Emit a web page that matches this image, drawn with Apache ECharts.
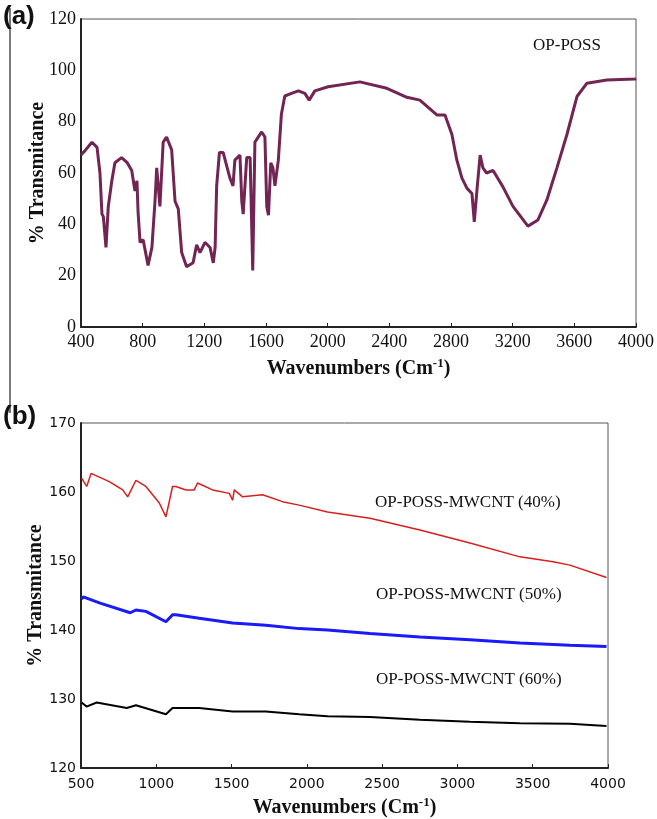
<!DOCTYPE html>
<html>
<head>
<meta charset="utf-8">
<script src="https://cdn.jsdelivr.net/npm/echarts@6/dist/echarts.min.js"></script>
<style>
  html, body { margin: 0; padding: 0; background: #fff; }
  #chart { width: 657px; height: 819px; }
</style>
</head>
<body>
<div id="chart"></div>
<script>
// (a) OP-POSS spectrum
const waveA = [400, 430, 471, 504, 523, 536, 545, 562, 577, 600, 620, 663, 700, 729, 750, 763, 770, 783, 803, 835,
  860, 880, 891, 912, 933, 955, 988, 1010, 1031, 1053, 1085, 1127, 1150, 1172, 1204, 1237, 1258, 1270, 1280, 1298,
  1322, 1366, 1386, 1398, 1431, 1443, 1452, 1475, 1497, 1514, 1528, 1572, 1593, 1605, 1616, 1631, 1645, 1658, 1680, 1700,
  1722, 1765, 1810, 1852, 1880, 1917, 2003, 2209, 2384, 2514, 2598, 2708, 2761, 2806, 2838, 2871, 2904, 2936, 2951, 2970,
  2989, 3007, 3031, 3073, 3137, 3202, 3299, 3364, 3422, 3487, 3552, 3617, 3682, 3811, 3993, 4000]
const transA = [67, 69, 72, 70, 60, 44, 43, 31, 47, 57, 64, 66, 64, 61, 53, 57, 45, 33, 34, 24,
  31, 49, 62, 47, 72, 74, 69, 49, 46, 29, 23.5, 25, 32, 29, 33, 31, 25, 31, 55, 68,
  68, 58, 55, 65, 67, 49, 44, 66, 66, 22, 72, 76, 74, 47, 43.6, 64, 62, 55, 65, 83,
  90, 91, 92, 91, 88.4, 92, 93.6, 95.5, 93, 89.5, 88.4, 82.6, 82.6, 75, 65, 58, 54, 52, 41, 54.5,
  67, 62, 60, 61, 54.6, 47, 39.3, 41.7, 49.5, 62, 75, 89.8, 95, 96.2, 96.6, 96.8]

// (b) OP-POSS-MWCNT spectra
const wave40 = [504, 538, 567, 688, 777, 810, 865, 931, 1020, 1064, 1075, 1108, 1130, 1197, 1252, 1274, 1374, 1485, 1507, 1518,
  1573, 1706, 1838, 1949, 2137, 2419, 2751, 3083, 3415, 3636, 3747, 3990]
const trans40 = [162.0, 160.8, 162.7, 161.5, 160.3, 159.3, 161.7, 160.8, 158.4, 156.4, 156.2, 160.8, 160.8, 160.3, 160.3, 161.3, 160.3, 159.8, 158.8, 160.3,
  159.3, 159.6, 158.6, 158.1, 157.1, 156.2, 154.5, 152.6, 150.6, 149.9, 149.4, 147.6]
const wave50 = [504, 515, 627, 827, 865, 931, 1064, 1108, 1130, 1285, 1507, 1727, 1949, 2137, 2419, 2751, 3083, 3415, 3747, 3990]
const trans50 = [144.5, 144.8, 143.9, 142.5, 142.9, 142.7, 141.2, 142.2, 142.2, 141.7, 141.0, 140.7, 140.2, 140.0, 139.5, 139.0, 138.6, 138.1, 137.8, 137.6]
const wave60 = [504, 537, 604, 804, 865, 1064, 1108, 1285, 1507, 1727, 1949, 2137, 2419, 2751, 3083, 3415, 3747, 3990]
const trans60 = [129.5, 128.9, 129.5, 128.7, 129.1, 127.8, 128.7, 128.7, 128.2, 128.2, 127.8, 127.5, 127.4, 127.0, 126.7, 126.5, 126.4, 126.1]

const labelsB = ['OP-POSS-MWCNT (40%)', 'OP-POSS-MWCNT (50%)', 'OP-POSS-MWCNT (60%)']

const zip = (xs, ys) => xs.map((x, i) => [x, ys[i]])
const plain = (v) => String(v)

const serif = 'Liberation Serif'
const xName = 'Wavenumbers (Cm{sup|-1})'
const nameStyle = {
  fontFamily: serif, fontWeight: 'bold', fontSize: 20, color: '#111',
  rich: { sup: { fontFamily: serif, fontWeight: 'bold', fontSize: 13, color: '#111', verticalAlign: 'top', padding: [0, 0, 10, 0] } }
}

const chart = echarts.init(document.getElementById('chart'))

const option = {
  animation: false,
  grid: [
    { left: 81, top: 19, width: 555, height: 308, show: true, borderColor: '#555', borderWidth: 1 },
    { left: 81, top: 423, width: 527, height: 345, show: true, borderColor: '#555', borderWidth: 1 }
  ],
  xAxis: [
    {
      gridIndex: 0, type: 'value', min: 400, max: 4000, interval: 400,
      name: xName, nameLocation: 'middle', nameGap: 30, nameTextStyle: nameStyle,
      axisLine: { lineStyle: { color: '#222', width: 2 } },
      axisTick: { inside: true, length: 4, lineStyle: { color: '#222' } },
      axisLabel: { fontFamily: serif, fontSize: 18, color: '#111', margin: 6, formatter: plain },
      splitLine: { show: false }
    },
    {
      gridIndex: 1, type: 'value', min: 500, max: 4000, interval: 500,
      name: xName, nameLocation: 'middle', nameGap: 28, nameTextStyle: nameStyle,
      axisLine: { lineStyle: { color: '#222', width: 2 } },
      axisTick: { inside: true, length: 4, lineStyle: { color: '#222' } },
      axisLabel: { fontFamily: 'DejaVu Sans', fontSize: 14, color: '#111', margin: 9, formatter: plain },
      splitLine: { show: false }
    }
  ],
  yAxis: [
    {
      gridIndex: 0, type: 'value', min: 0, max: 120, interval: 20,
      name: '% Transmitance', nameLocation: 'middle', nameGap: 33, nameMoveOverlap: false, nameTextStyle: nameStyle,
      axisLine: { show: true, lineStyle: { color: '#222', width: 2 } },
      axisTick: { show: false },
      axisLabel: { fontFamily: serif, fontSize: 18, color: '#111', margin: 5 },
      splitLine: { show: false }
    },
    {
      gridIndex: 1, type: 'value', min: 120, max: 170, interval: 10,
      name: '% Transmitance', nameLocation: 'middle', nameGap: 35, nameMoveOverlap: false, nameTextStyle: nameStyle,
      axisLine: { show: true, lineStyle: { color: '#222', width: 2 } },
      axisTick: { show: false },
      axisLabel: { fontFamily: 'DejaVu Sans', fontSize: 14, color: '#111', margin: 5 },
      splitLine: { show: false }
    }
  ],
  series: [
    {
      name: 'OP-POSS', type: 'line', xAxisIndex: 0, yAxisIndex: 0,
      data: zip(waveA, transA), showSymbol: false,
      lineStyle: { color: '#722553', width: 3 }
    },
    {
      name: labelsB[0], type: 'line', xAxisIndex: 1, yAxisIndex: 1,
      data: zip(wave40, trans40), showSymbol: false,
      lineStyle: { color: '#d91e1e', width: 1.5 }
    },
    {
      name: labelsB[1], type: 'line', xAxisIndex: 1, yAxisIndex: 1,
      data: zip(wave50, trans50), showSymbol: false,
      lineStyle: { color: '#1a1aff', width: 3 }
    },
    {
      name: labelsB[2], type: 'line', xAxisIndex: 1, yAxisIndex: 1,
      data: zip(wave60, trans60), showSymbol: false,
      lineStyle: { color: '#000', width: 2 }
    }
  ],
  graphic: [
    // stray frame line at the left of the figure
    { type: 'line', shape: { x1: 10, y1: 8, x2: 10, y2: 413 }, style: { stroke: '#222', lineWidth: 1.2 } },
    { type: 'text', left: 3, top: 4, style: { text: '(a)', font: 'bold 26px "Liberation Sans"', fill: '#111' } },
    { type: 'text', left: 3, top: 404, style: { text: '(b)', font: 'bold 26px "Liberation Sans"', fill: '#111' } },
    { type: 'text', left: 533, top: 37, style: { text: 'OP-POSS', font: '17px "Liberation Serif"', fill: '#111' } },
    { type: 'text', left: 375, top: 494, style: { text: labelsB[0], font: '17px "Liberation Serif"', fill: '#111' } },
    { type: 'text', left: 376, top: 586, style: { text: labelsB[1], font: '17px "Liberation Serif"', fill: '#111' } },
    { type: 'text', left: 376, top: 671, style: { text: labelsB[2], font: '17px "Liberation Serif"', fill: '#111' } }
  ]
}

chart.setOption(option)
</script>
</body>
</html>
